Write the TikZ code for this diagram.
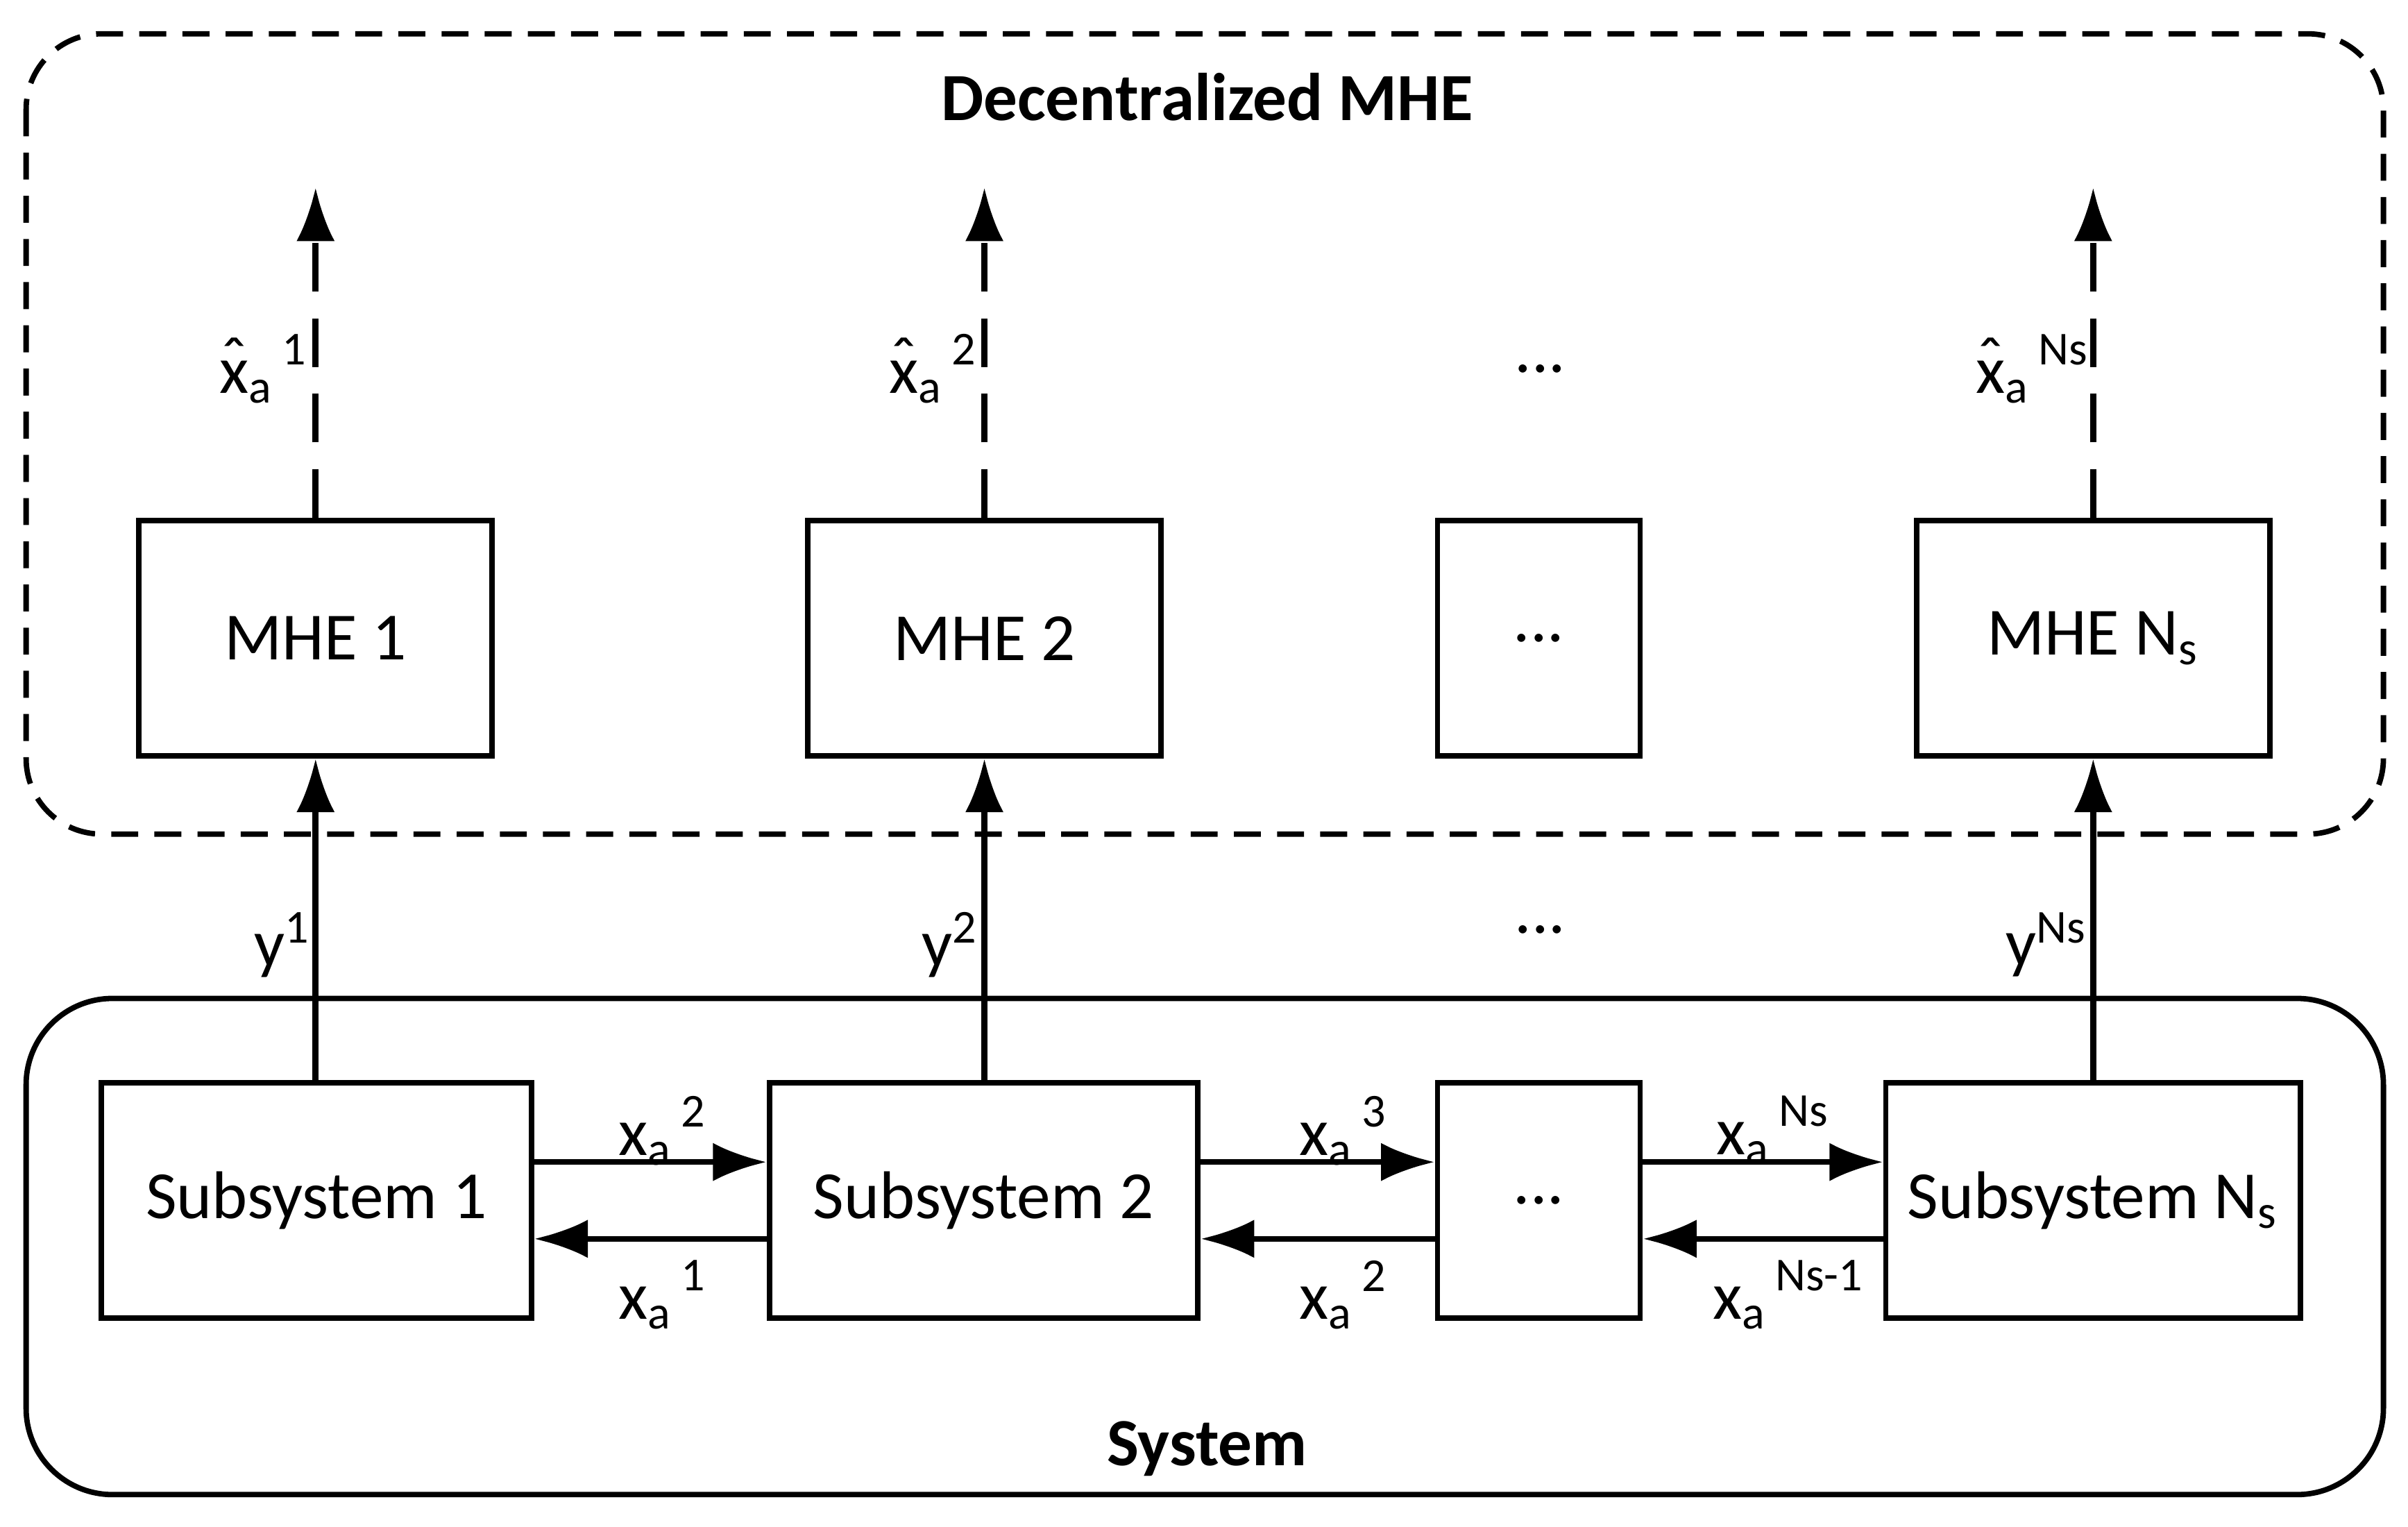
\documentclass[tikz,border=0pt]{standalone}
\usepackage{fontspec}
\setmainfont{Carlito}
\usetikzlibrary{arrows.meta}
\newcommand{\hatx}{\ooalign{x\cr\hidewidth\raisebox{0.3ex}{\char"02C6}\hidewidth}}
\newcommand{\supx}[2]{#1\textsubscript{a}\raisebox{0.15ex}{\textsuperscript{\,#2}}}
\begin{document}
\begin{tikzpicture}[x=0.1mm,y=-0.1mm,
  box/.style={draw,line width=1pt,inner sep=0pt,font=\fontsize{12.5}{15}\selectfont},
  arr/.style={line width=1.1pt,-{Latex[length=3.5mm,width=2.5mm]}},
  lbl/.style={font=\fontsize{12.5}{15}\selectfont,inner sep=1pt},
  ttl/.style={font=\bfseries\fontsize{12.5}{15}\selectfont}]
\useasboundingbox (0,0) rectangle (1568,994);
\draw[line width=1pt,dashed,dash pattern=on 5pt off 3pt,rounded corners=14pt] (17,22) rectangle (1552,543);
\draw[line width=1pt,rounded corners=16pt] (17,650) rectangle (1552,973);
\node[ttl] (t1) at (786,63) {Decentralized MHE};
\node[ttl] (t2) at (786,943) {System};
% MHE boxes
\node[box,minimum width=23mm,minimum height=15.3mm] (m1) at (205.5,415.5) {MHE 1};
\node[box,minimum width=23mm,minimum height=15.3mm] (m2) at (641,415.5) {MHE 2};
\node[box,minimum width=13.2mm,minimum height=15.3mm] (m3) at (1002,415.5) {...};
\node[box,minimum width=23mm,minimum height=15.3mm] (m4) at (1363,415.5) {MHE N\textsubscript{s}};
% subsystems
\node[box,minimum width=28mm,minimum height=15.3mm] (s1) at (206,781.5) {Subsystem 1};
\node[box,minimum width=27.9mm,minimum height=15.3mm] (s2) at (640.5,781.5) {Subsystem 2};
\node[box,minimum width=13.2mm,minimum height=15.3mm] (s3) at (1002,781.5) {...};
\node[box,minimum width=27mm,minimum height=15.3mm] (s4) at (1363,781.5) {Subsystem N\textsubscript{s}};
% outputs
\coordinate (o1) at (205.5,122); \coordinate (o2) at (641,122); \coordinate (o4) at (1363,122);
\foreach \m/\o in {m1/o1,m2/o2,m4/o4}
  \draw[arr,dash pattern=on 9pt off 5pt] (\m.north) -- (\o);
\draw[arr] (s1.north -| m1.south) -- (m1.south);
\draw[arr] (s2.north -| m2.south) -- (m2.south);
\draw[arr] (s4.north -| m4.south) -- (m4.south);
\node[lbl] at (172,240) {\supx{\hatx}{1}};
\node[lbl] at (608,240) {\supx{\hatx}{2}};
\node[lbl] at (1003,240) {...};
\node[lbl] at (1324,240) {\supx{\hatx}{Ns}};
\node[lbl] at (184,615) {y\textsuperscript{1}};
\node[lbl] at (619,615) {y\textsuperscript{2}};
\node[lbl] at (1003,605) {...};
\node[lbl] at (1333,615) {y\textsuperscript{Ns}};
% horizontal arrows
\draw[arr] ([yshift=0.25cm]s1.east) -- ([yshift=0.25cm]s2.west);
\draw[arr] ([yshift=-0.25cm]s2.west) -- ([yshift=-0.25cm]s1.east);
\draw[arr] ([yshift=0.25cm]s2.east) -- ([yshift=0.25cm]s3.west);
\draw[arr] ([yshift=-0.25cm]s3.west) -- ([yshift=-0.25cm]s2.east);
\draw[arr] ([yshift=0.25cm]s3.east) -- ([yshift=0.25cm]s4.west);
\draw[arr] ([yshift=-0.25cm]s4.west) -- ([yshift=-0.25cm]s3.east);
\node[lbl] at (432,736) {\supx{x}{2}};
\node[lbl] at (432,843) {\supx{x}{1}};
\node[lbl] at (875,736) {\supx{x}{3}};
\node[lbl] at (875,843) {\supx{x}{2}};
\node[lbl] at (1155,736) {\supx{x}{Ns}};
\node[lbl] at (1165,843) {\supx{x}{Ns-1}};
\end{tikzpicture}
\end{document}
